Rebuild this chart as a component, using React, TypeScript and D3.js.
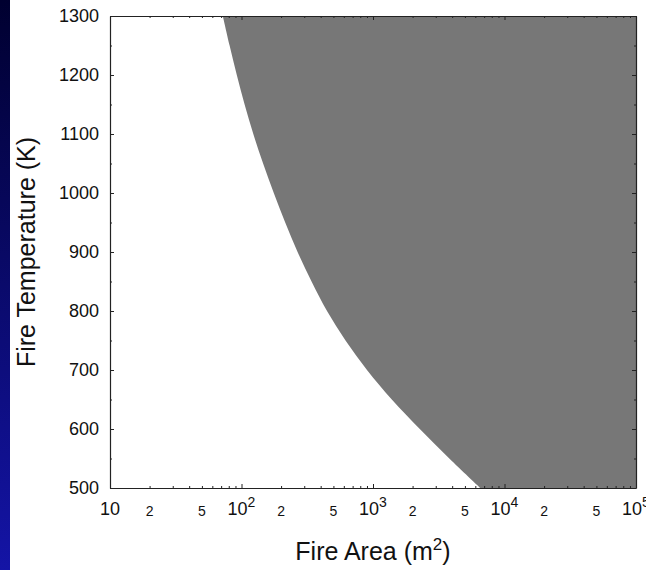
import { useEffect, useRef } from 'react';
import * as d3 from 'd3';

// boundary of the shaded region
const temps = [500, 550, 600, 650, 700, 750, 800, 850, 900, 950, 1000, 1050, 1100, 1150, 1200, 1250, 1300];
const areas = [6546, 3804, 2270, 1390, 900, 618, 447, 341, 267, 215, 176, 146, 123, 105.6, 92.1, 81.2, 72.1];

const yMajor = [500, 600, 700, 800, 900, 1000, 1100, 1200, 1300];
const yMinor = [550, 650, 750, 850, 950, 1050, 1150, 1250];
const xMajor = [10, 100, 1000, 10000, 100000];
const xMinorLabels = [20, 50, 200, 500, 2000, 5000, 20000, 50000];

const FONT = '"Liberation Sans", Arial, Helvetica, sans-serif';

function App() {
  const svgRef = useRef<SVGSVGElement>(null);

  useEffect(() => {
    const width = 646;
    const height = 570;
    const margin = { top: 16, right: 10, bottom: 82, left: 110 };

    const svg = d3.select(svgRef.current)
      .attr('width', width)
      .attr('height', height);

    svg.selectAll('*').remove();

    const defs = svg.append('defs');
    const grad = defs.append('linearGradient')
      .attr('id', 'strip')
      .attr('x1', 0).attr('y1', 0).attr('x2', 0).attr('y2', 1);
    grad.append('stop').attr('offset', '0%').attr('stop-color', '#000030');
    grad.append('stop').attr('offset', '100%').attr('stop-color', '#1414a6');

    svg.append('rect')
      .attr('width', width).attr('height', height).attr('fill', '#fff');
    svg.append('rect')
      .attr('width', 10).attr('height', height).attr('fill', 'url(#strip)');

    const x = d3.scaleLog()
      .domain([10, 100000])
      .range([margin.left, width - margin.right]);

    const y = d3.scaleLinear()
      .domain([500, 1300])
      .range([height - margin.bottom, margin.top]);

    const pts = temps.map((t, i) => ({ t, a: areas[i] }));

    const area = d3.area<{ t: number; a: number }>()
      .y(d => y(d.t))
      .x0(d => x(d.a))
      .x1(x.range()[1])
      .curve(d3.curveCatmullRom);

    svg.append('path')
      .datum(pts)
      .attr('d', area)
      .attr('fill', '#777777');

    const minorX = x.ticks().filter(v => !xMajor.includes(v));

    const addAxis = (axis: any, tx: number, ty: number, withDomain: boolean) => {
      const g = svg.append('g')
        .attr('transform', `translate(${tx},${ty})`)
        .call(axis);
      g.selectAll('text').remove();
      g.selectAll('line').attr('stroke', '#222');
      if (withDomain) g.select('.domain').attr('stroke', '#222').attr('stroke-width', 1.2);
      else g.select('.domain').remove();
    };

    const bottomY = height - margin.bottom;
    const rightX = width - margin.right;

    // bottom + top
    addAxis(d3.axisBottom(x).tickValues(xMajor).tickSizeInner(-4).tickSizeOuter(0).tickFormat(() => ''), 0, bottomY, true);
    addAxis(d3.axisBottom(x).tickValues(minorX).tickSizeInner(-2).tickSizeOuter(0).tickFormat(() => ''), 0, bottomY, false);
    addAxis(d3.axisTop(x).tickValues(xMajor).tickSizeInner(-4).tickSizeOuter(0).tickFormat(() => ''), 0, margin.top, true);
    addAxis(d3.axisTop(x).tickValues(minorX).tickSizeInner(-2).tickSizeOuter(0).tickFormat(() => ''), 0, margin.top, false);
    // left + right
    addAxis(d3.axisLeft(y).tickValues(yMajor).tickSizeInner(-4).tickSizeOuter(0).tickFormat(() => ''), margin.left, 0, true);
    addAxis(d3.axisLeft(y).tickValues(yMinor).tickSizeInner(-2).tickSizeOuter(0).tickFormat(() => ''), margin.left, 0, false);
    addAxis(d3.axisRight(y).tickValues(yMajor).tickSizeInner(-4).tickSizeOuter(0).tickFormat(() => ''), rightX, 0, true);
    addAxis(d3.axisRight(y).tickValues(yMinor).tickSizeInner(-2).tickSizeOuter(0).tickFormat(() => ''), rightX, 0, false);

    // y tick labels
    svg.append('g')
      .selectAll('text')
      .data(yMajor)
      .enter()
      .append('text')
      .attr('x', margin.left - 11)
      .attr('y', d => y(d))
      .attr('dy', '0.36em')
      .attr('text-anchor', 'end')
      .attr('font-family', FONT)
      .attr('font-size', 18)
      .attr('fill', '#111')
      .text(d => d);

    // x major labels with superscripts
    const xl = svg.append('g')
      .selectAll('text')
      .data(xMajor)
      .enter()
      .append('text')
      .attr('x', d => x(d))
      .attr('y', bottomY + 27)
      .attr('text-anchor', 'middle')
      .attr('font-family', FONT)
      .attr('font-size', 18)
      .attr('fill', '#111');
    xl.append('tspan').text('10');
    xl.filter(d => d > 10)
      .append('tspan')
      .attr('font-size', 14)
      .attr('dy', -8)
      .text(d => String(Math.round(Math.log10(d))));

    // minor x labels
    svg.append('g')
      .selectAll('text')
      .data(xMinorLabels)
      .enter()
      .append('text')
      .attr('x', d => x(d))
      .attr('y', bottomY + 28)
      .attr('text-anchor', 'middle')
      .attr('font-family', FONT)
      .attr('font-size', 14)
      .attr('fill', '#111')
      .text(d => String(d).charAt(0));

    // axis titles
    const xt = svg.append('text')
      .attr('x', (margin.left + rightX) / 2)
      .attr('y', 560)
      .attr('text-anchor', 'middle')
      .attr('font-family', FONT)
      .attr('font-size', 25)
      .attr('fill', '#111');
    xt.append('tspan').text('Fire Area (m');
    xt.append('tspan').attr('font-size', 17).attr('dy', -10).text('2');
    xt.append('tspan').attr('dy', 10).text(')');

    svg.append('text')
      .attr('transform', `translate(35,${(margin.top + bottomY) / 2}) rotate(-90)`)
      .attr('text-anchor', 'middle')
      .attr('font-family', FONT)
      .attr('font-size', 25)
      .attr('fill', '#111')
      .text('Fire Temperature (K)');
  }, []);

  return (
    <div style={{ position: 'absolute', left: 0, top: 0 }}>
      <svg ref={svgRef} style={{ display: 'block' }}></svg>
    </div>
  );
}

export default App;
